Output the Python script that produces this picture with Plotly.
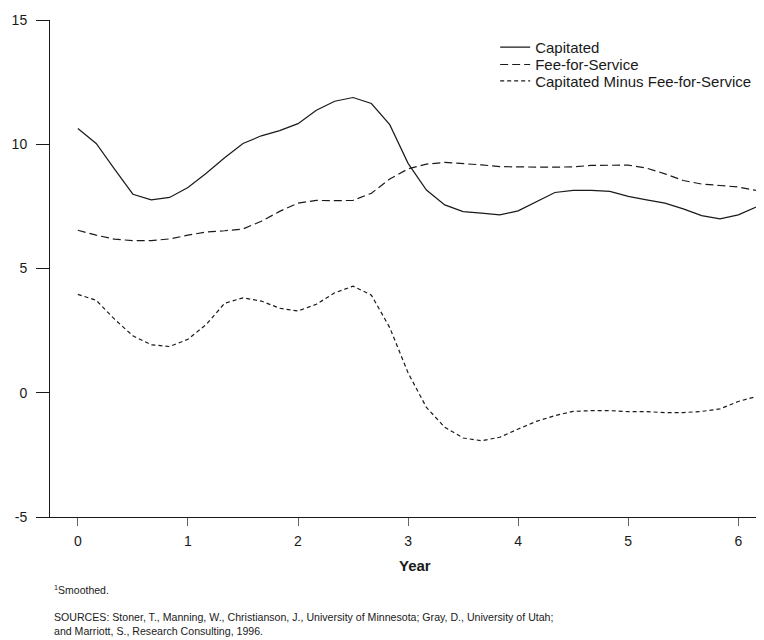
import plotly.graph_objects as go

# Year values every two months (k/6 years)
years = [k / 6 for k in range(38)]

capitated = [10.63, 10.03, 9.00, 7.99, 7.76, 7.86, 8.26, 8.83, 9.46, 10.03,
             10.34, 10.55, 10.83, 11.37, 11.73, 11.88, 11.64, 10.79, 9.23, 8.16,
             7.56, 7.29, 7.23, 7.16, 7.32, 7.70, 8.06, 8.14, 8.14, 8.10,
             7.90, 7.76, 7.63, 7.40, 7.13, 7.00, 7.16, 7.48]

fee_for_service = [6.54, 6.34, 6.18, 6.12, 6.12, 6.19, 6.34, 6.47, 6.52, 6.59,
                   6.90, 7.30, 7.63, 7.74, 7.73, 7.74, 8.03, 8.60, 9.01, 9.20,
                   9.27, 9.23, 9.17, 9.10, 9.08, 9.08, 9.08, 9.09, 9.15, 9.16,
                   9.16, 9.04, 8.81, 8.54, 8.40, 8.34, 8.28, 8.14]

cap_minus_ffs = [3.96, 3.72, 2.96, 2.29, 1.93, 1.86, 2.15, 2.75, 3.60, 3.82,
                 3.69, 3.40, 3.29, 3.56, 4.02, 4.29, 3.93, 2.62, 0.80, -0.59,
                 -1.39, -1.82, -1.93, -1.79, -1.46, -1.15, -0.92, -0.75, -0.72, -0.72,
                 -0.76, -0.76, -0.80, -0.80, -0.75, -0.65, -0.35, -0.15]

x_ticks = [0, 1, 2, 3, 4, 5, 6]
y_ticks = [-5, 0, 5, 10, 15]

series_names = ["Capitated", "Fee-for-Service", "Capitated Minus Fee-for-Service"]

FONT = "Liberation Sans, Arial, Helvetica, sans-serif"
INK = "#1a1a1a"

fig = go.Figure()
fig.add_trace(go.Scatter(x=years, y=capitated, mode="lines", name=series_names[0],
                         legend="legend",
                         line=dict(color=INK, width=1.2, dash="solid")))
fig.add_trace(go.Scatter(x=years, y=fee_for_service, mode="lines", name=series_names[1],
                         legend="legend2",
                         line=dict(color=INK, width=1.2, dash="8px,4px")))
fig.add_trace(go.Scatter(x=years, y=cap_minus_ffs, mode="lines", name=series_names[2],
                         legend="legend3",
                         line=dict(color=INK, width=1.2, dash="4px,3px")))

LEG_X = 0.627


def leg(yc):
    return dict(x=LEG_X, y=yc, xanchor="left", yanchor="middle",
                bgcolor="rgba(0,0,0,0)", borderwidth=0,
                font=dict(size=15, family=FONT, color=INK), itemwidth=30)


fig.update_layout(
    width=756, height=632,
    margin=dict(l=38, r=4, t=10, b=123, pad=0),
    paper_bgcolor="white", plot_bgcolor="white",
    font=dict(family=FONT, color=INK, size=14),
    showlegend=True,
    legend=leg(0.945),
    legend2=leg(0.910),
    legend3=leg(0.877),
    xaxis=dict(range=[-0.253, 6.197], tickvals=x_ticks, ticktext=[str(v) for v in x_ticks],
               showgrid=False, zeroline=False, showline=True, linecolor=INK, linewidth=1,
               ticks="outside", ticklen=8, tickwidth=1, tickcolor="#666",
               ticklabelstandoff=3, tickfont=dict(size=14)),
    yaxis=dict(range=[-5, 15], tickvals=y_ticks, ticktext=[str(v) for v in y_ticks],
               showgrid=False, zeroline=False, showline=True, linecolor=INK, linewidth=1,
               ticks="outside", ticklen=13, tickwidth=1, tickcolor=INK,
               ticklabelstandoff=6, tickfont=dict(size=14)),
    annotations=[
        dict(text="<b>Year</b>", xref="paper", yref="paper", x=0.514, y=-0.098,
             xanchor="center", yanchor="middle", showarrow=False,
             font=dict(size=15, family=FONT, color=INK)),
        dict(text="<sup>1</sup>Smoothed.", xref="paper", yref="paper",
             x=(48 - 46) / 714, y=(517 - 590) / 499, xanchor="left", yanchor="middle",
             showarrow=False, font=dict(size=10.5, family=FONT, color=INK)),
        dict(text="SOURCES: Stoner, T., Manning, W., Christianson, J., University of Minnesota; "
                  "Gray, D., University of Utah;<br>and Marriott, S., Research Consulting, 1996.",
             xref="paper", yref="paper", x=(48 - 46) / 714, y=(517 - 624) / 499,
             xanchor="left", yanchor="middle", align="left", showarrow=False,
             font=dict(size=10.6, family=FONT, color=INK)),
    ],
)

fig.write_html("out.html")
